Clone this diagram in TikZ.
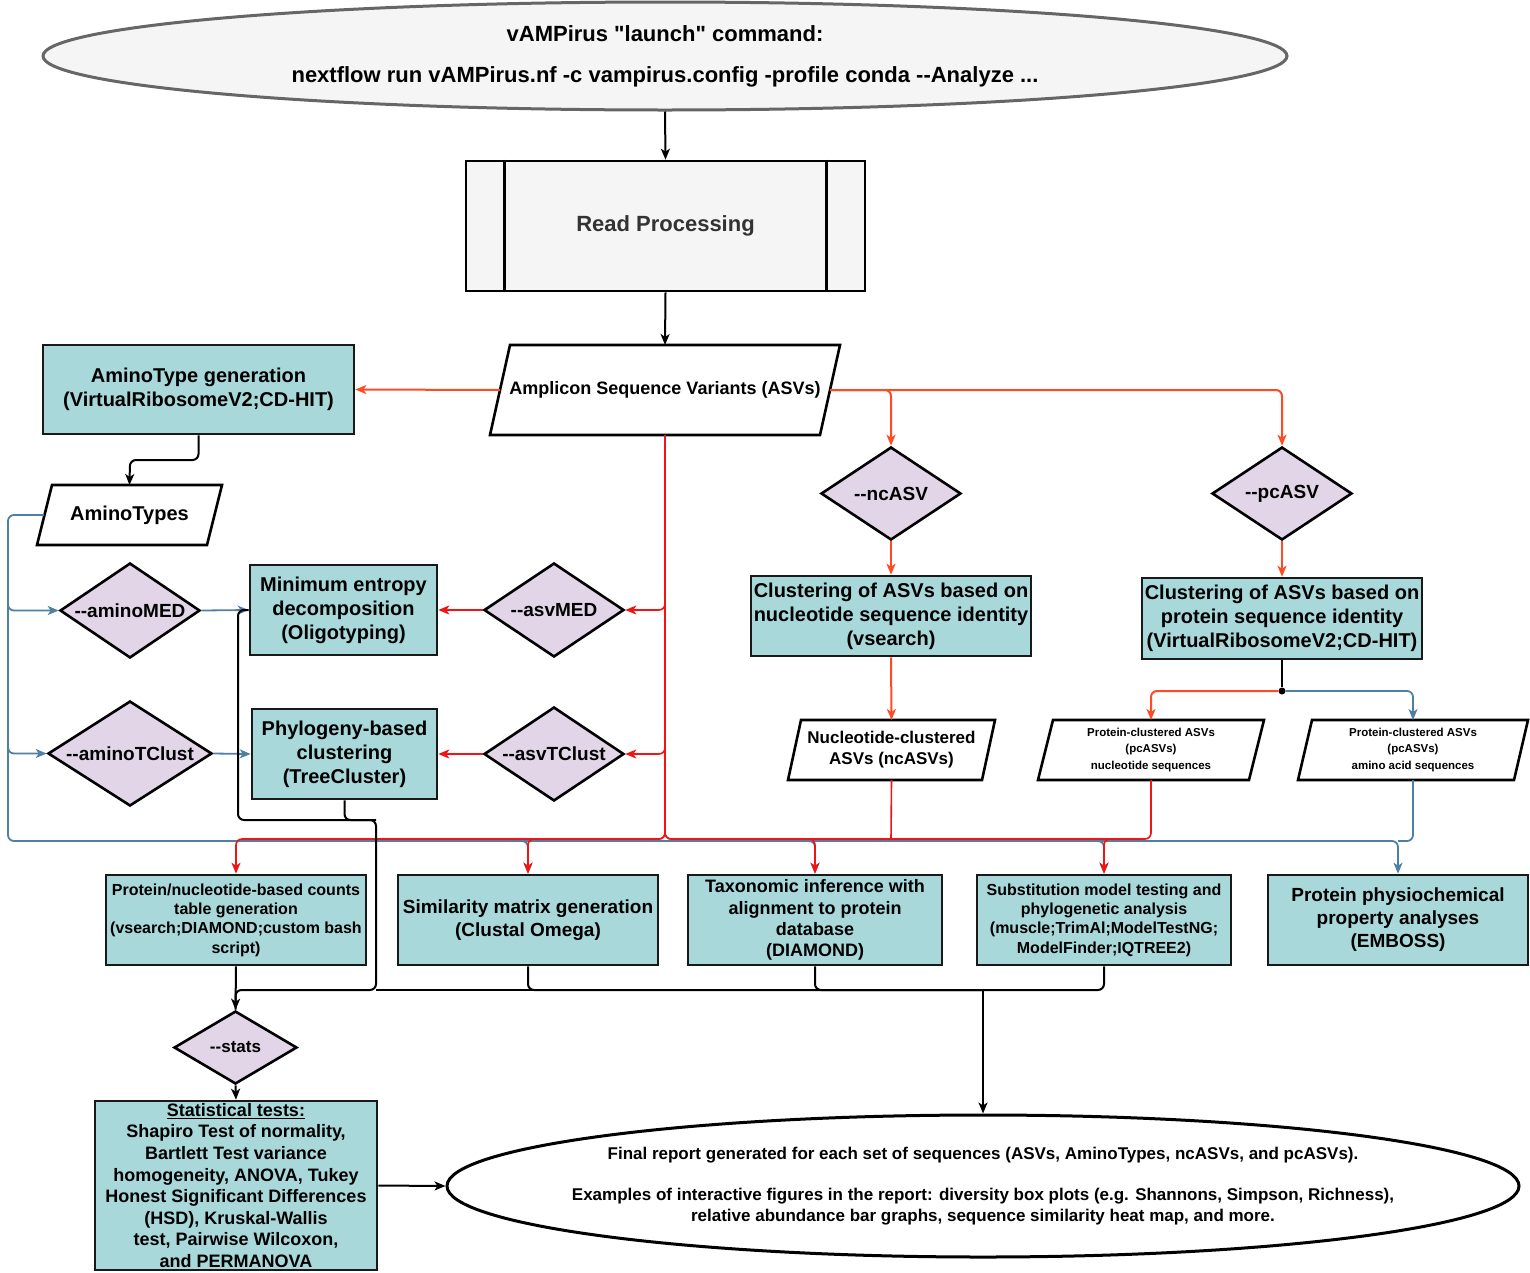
\documentclass[tikz,border=0pt]{standalone}
\usepackage{fontspec}
\setmainfont{Liberation Sans}[Ligatures=TeXOff]
\usetikzlibrary{shapes.geometric,arrows.meta}
\definecolor{tealF}{RGB}{168,216,218}
\definecolor{lavF}{RGB}{225,213,231}
\definecolor{grayF}{RGB}{245,245,245}
\definecolor{grayD}{RGB}{102,102,102}
\definecolor{gray33}{RGB}{51,51,51}
\definecolor{cOrg}{RGB}{255,75,35}
\definecolor{cRed}{RGB}{240,20,20}
\definecolor{cBlue}{RGB}{78,128,165}
\newcommand\fsz[2]{\fontsize{#1}{#2}\selectfont\bfseries}
\newcommand\drawpara[2]{\draw[line width=2.6, line join=miter]
  ([xshift=#2]#1.north west) -- (#1.north east) -- ([xshift=-#2]#1.south east) -- (#1.south west) -- cycle;}
\begin{document}
\begin{tikzpicture}[x=1pt,y=-1pt,
  tbox/.style={draw=black!90, line width=2.6, fill=tealF, inner sep=0, align=center},
  dia/.style={diamond, draw=black, line width=2.6, fill=lavF, inner sep=1pt},
  pbox/.style={inner sep=0, outer sep=0, align=center},
  lbl/.style={align=center, inner sep=0},
  arr/.style={-{Stealth[length=11pt,width=9pt,inset=3pt]}},
  blk/.style={draw=black, line width=2, rounded corners=6},
  rd/.style={draw=cRed, line width=1.6, rounded corners=6},
  org/.style={draw=cOrg, line width=2, rounded corners=6},
  blu/.style={draw=cBlue, line width=1.8, rounded corners=6}]
\useasboundingbox (0,0) rectangle (1530,1272);

% ---- nodes ----
\node[ellipse, draw=grayD, line width=3, fill=grayF, minimum width=1244, minimum height=108,
      inner sep=0, align=center, font=\fsz{22}{41}] (top) at (665,56)
  {vAMPirus "launch" command:\\nextflow run vAMPirus.nf -c vampirus.config -profile conda --Analyze ...};

\node[draw=black, line width=2.6, fill=grayF, minimum width=399, minimum height=130, inner sep=0,
      text=gray33, font=\fsz{22}{26}] (rp) at (665.5,226) {Read Processing};
\draw[line width=2.6] ([xshift=40pt]rp.north west) -- ([xshift=40pt]rp.south west);
\draw[line width=2.6] ([xshift=-40pt]rp.north east) -- ([xshift=-40pt]rp.south east);

\node[pbox, minimum width=350, minimum height=90, font=\fsz{18}{21.6}] (asv) at (665,390)
  {Amplicon Sequence Variants (ASVs)};
\drawpara{asv}{20pt}

\node[tbox, minimum width=311, minimum height=89, font=\fsz{20}{24}] (atg) at (198.5,389.5)
  {AminoType generation\\(VirtualRibosomeV2;CD-HIT)};

\node[pbox, minimum width=185, minimum height=60, font=\fsz{20}{24}] (at) at (129.5,515) {AminoTypes};
\drawpara{at}{15pt}

\node[dia, minimum width=140, minimum height=95,
      label={[lbl,font=\fsz{19}{23}]center:{--aminoMED}}] (aMED) at (130,610.5) {};
\node[dia, minimum width=164, minimum height=105,
      label={[lbl,font=\fsz{19}{23}]center:{--aminoTClust}}] (aTC) at (130,753.5) {};

\node[tbox, minimum width=187, minimum height=90, font=\fsz{20}{24}] (med) at (343.5,610)
  {Minimum entropy\\decomposition\\(Oligotyping)};
\node[tbox, minimum width=185, minimum height=90, font=\fsz{20}{24}] (tc) at (344.5,754)
  {Phylogeny-based\\clustering\\(TreeCluster)};

\node[dia, minimum width=140, minimum height=94,
      label={[lbl,font=\fsz{19}{23}]center:{--asvMED}}] (sMED) at (554,610) {};
\node[dia, minimum width=140, minimum height=94,
      label={[lbl,font=\fsz{19}{23}]center:{--asvTClust}}] (sTC) at (554,754) {};

\node[dia, minimum width=140, minimum height=93,
      label={[lbl,font=\fsz{19}{23}]center:{--ncASV}}] (ncasv) at (891,493.5) {};
\node[dia, minimum width=140, minimum height=93,
      label={[lbl,font=\fsz{19}{23}]center:{--pcASV}}] (pcasv) at (1282,493.5) {};

\node[tbox, minimum width=280, minimum height=80, font=\fsz{20}{24}] (ncl) at (891,616)
  {Clustering of ASVs based on\\nucleotide sequence identity\\(vsearch)};
\node[tbox, minimum width=280, minimum height=81, font=\fsz{20}{24}] (pcl) at (1282,618.5)
  {Clustering of ASVs based on\\protein sequence identity\\(VirtualRibosomeV2;CD-HIT)};

\node[pbox, minimum width=207, minimum height=60, font=\fsz{17}{21}] (nca) at (891.5,750)
  {Nucleotide-clustered\\ASVs (ncASVs)};
\drawpara{nca}{13pt}
\node[pbox, minimum width=226, minimum height=60, font=\fsz{11.5}{16.5}] (pcn) at (1151,750)
  {Protein-clustered ASVs\\(pcASVs)\\nucleotide sequences};
\drawpara{pcn}{15pt}
\node[pbox, minimum width=230, minimum height=60, font=\fsz{11.5}{16.5}] (pca) at (1413,750)
  {Protein-clustered ASVs\\(pcASVs)\\amino acid sequences};
\drawpara{pca}{14pt}

\node[circle, fill=black, inner sep=0, minimum size=7] (dot) at (1282,691) {};

\node[tbox, minimum width=260, minimum height=90, font=\fsz{16}{19.3}] (counts) at (236,920)
  {Protein/nucleotide-based counts\\table generation\\(vsearch;DIAMOND;custom bash\\script)};
\node[tbox, minimum width=260, minimum height=90, font=\fsz{19}{23}] (sim) at (528,920)
  {Similarity matrix generation\\(Clustal Omega)};
\node[tbox, minimum width=254, minimum height=90, font=\fsz{18}{21.3}] (tax) at (815,920)
  {Taxonomic inference with\\alignment to protein\\database\\(DIAMOND)};
\node[tbox, minimum width=254, minimum height=90, font=\fsz{16}{19.3}] (subs) at (1104,920)
  {Substitution model testing and\\phylogenetic analysis\\(muscle;TrimAl;ModelTestNG;\\ModelFinder;IQTREE2)};
\node[tbox, minimum width=260, minimum height=90, font=\fsz{19}{23}] (phys) at (1398,920)
  {Protein physiochemical\\property analyses\\(EMBOSS)};

\node[dia, minimum width=123, minimum height=73,
      label={[lbl,font=\fsz{17}{20}]center:{--stats}}] (stats) at (235.5,1047.5) {};

\node[tbox, minimum width=282, minimum height=169, font=\fsz{18}{21.6}] (stt) at (236,1185.5)
  {\underline{Statistical tests:}\\Shapiro Test of normality,\\Bartlett Test variance\\homogeneity, ANOVA, Tukey\\Honest Significant Differences\\(HSD), Kruskal-Wallis\\test, Pairwise Wilcoxon,\\and PERMANOVA};

\node[ellipse, draw=black, line width=3, fill=white, minimum width=1072, minimum height=142,
      inner sep=1pt,
      label={[lbl,font=\fsz{17}{20.5}]center:{Final report generated for each set of sequences (ASVs, AminoTypes, ncASVs, and pcASVs).\\[20.5pt]Examples of interactive figures in the report: diversity box plots (e.g. Shannons, Simpson, Richness),\\relative abundance bar graphs, sequence similarity heat map, and more.}}] (final) at (983,1186) {};

\coordinate (busR) at (983,990);

% ---- connectors ----
\draw[blk,arr] (top.south) -- (rp.north);
\draw[blk,arr] (rp.south) -- (asv.north);
\draw[org,arr] ([xshift=10pt]asv.west) -- (atg.east);
\draw[blk,arr] (atg.south) |- (130,460) -- (at.north);

% blue amino lines
\draw[blu,arr] ([xshift=7pt]at.west) -| (8,841) -| (phys.north);
\draw[blu] (pca.south) |- (1398,841);
\draw[blu,arr] (8,560) |- (aMED.west);
\draw[blu,arr] (8,700) |- (aTC.west);
\draw[blu,arr] (aMED.east) -- (med.west);
\draw[blu,arr] (aTC.east) -- (tc.west);
\draw[blu,arr] (480,841) -| (sim.north);
\draw[blu,arr] (760,841) -| (tax.north);
\draw[blu,arr] (1050,841) -| (subs.north);

% red ASV lines
\draw[rd] (asv.south) -- (665,839) -- (1110,839);
\draw[rd,arr] (665,590) |- (sMED.east);
\draw[rd,arr] (665,734) |- (sTC.east);
\draw[rd,arr] (sMED.west) -- (med.east);
\draw[rd,arr] (sTC.west) -- (tc.east);
\draw[rd,arr] (665,820) -- (665,839) -| (counts.north);
\draw[rd,arr] (665,820) -- (665,839) -| (sim.north);
\draw[rd,arr] (665,820) -- (665,839) -| (tax.north);
\draw[rd] (nca.south) -- (891,839);
\draw[rd,arr] (pcn.south) |- (1104,839) -- (subs.north);

% orange clustering lines
\draw[org,arr] ([xshift=-10pt]asv.east) -| (ncasv.north);
\draw[org,arr] ([xshift=-10pt]asv.east) -| (pcasv.north);
\draw[org,arr] (ncasv.south) -- (ncl.north);
\draw[org,arr] (pcasv.south) -- (pcl.north);
\draw[org,arr] (ncl.south) -- (nca.north);
\draw[blk] (pcl.south) -- (dot);
\draw[org,arr] (dot) -| (pcn.north);
\draw[blu,arr] (dot) -| (pca.north);

% black result lines
\draw[blk,arr] (counts.south) -- (stats.north);
\draw[blk] (med.west) -| (238,820) -| (376,990) -| (stats.north);
\draw[blk] (tc.south) |- (376,820);
\draw[blk] (376,990) -- (busR);
\draw[blk] (sim.south) |- (busR);
\draw[blk] (tax.south) |- (busR);
\draw[blk] (subs.south) |- (busR);
\draw[blk,arr] (busR) -- (final.north);
\draw[blk,arr] (stats.south) -- (stt.north);
\draw[blk,arr] (stt.east) -- (final.west);
\end{tikzpicture}
\end{document}
